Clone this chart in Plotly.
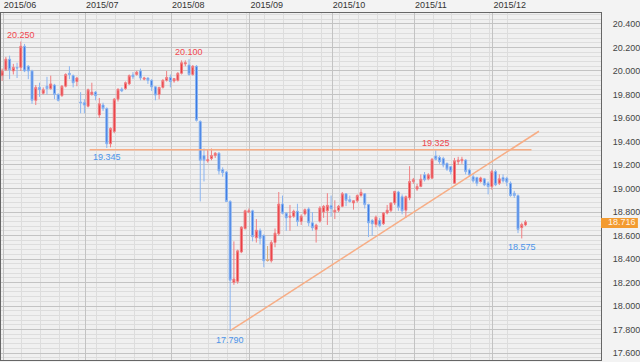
import plotly.graph_objects as go
import pandas as pd

# ---------------- data ----------------
dates = pd.bdate_range("2015-05-29", "2015-12-11")   # trading days shown

opens = [19.96, 20.01, 20.10, 20.00, 20.03, 20.03, 20.21, 20.04, 20.00, 19.75,
         19.86, 19.81, 19.87, 19.85, 19.88, 19.80, 19.79, 19.87, 19.98, 19.96,
         19.91, 19.735, 19.73, 19.70, 19.80, 19.82, 19.625, 19.71, 19.68, 19.38,
         19.485, 19.76, 19.845, 19.85, 19.89, 19.966, 19.97, 20.00, 19.93, 19.94,
         19.92, 19.865, 19.80, 19.86, 19.92, 19.945, 19.915, 19.92, 19.98, 20.06,
         20.05, 19.97, 20.04, 19.57, 19.28, 19.235, 19.255, 19.28, 19.30, 19.16,
         19.14, 18.89, 18.20, 18.21, 18.46, 18.66, 18.80, 18.81, 18.58, 18.643,
         18.60, 18.39, 18.385, 18.54, 18.615, 18.868, 18.79, 18.755, 18.764, 18.806,
         18.72, 18.784, 18.826, 18.708, 18.652, 18.722, 18.80, 18.81, 18.854, 18.80,
         18.815, 18.848, 18.955, 18.905, 18.877, 18.896, 18.94, 18.955, 18.863, 18.728,
         18.694, 18.728, 18.70, 18.792, 18.812, 18.877, 18.97, 18.93, 18.815, 18.92,
         19.06, 18.995, 19.017, 19.116, 19.082, 19.088, 19.276, 19.265, 19.256, 19.214,
         19.186, 19.045, 19.228, 19.236, 19.242, 19.158, 19.10, 19.093, 19.06, 19.082,
         19.045, 19.017, 19.144, 19.045, 19.093, 19.087, 19.045, 18.96, 18.94, 18.667,
         18.69]
highs = [20.02, 20.12, 20.13, 20.06, 20.07, 20.25, 20.23, 20.05, 20.01, 19.88,
         19.90, 19.86, 19.95, 19.96, 19.89, 19.81, 19.88, 19.98, 20.04, 19.97,
         19.95, 19.82, 19.76, 19.85, 19.90, 19.83, 19.77, 19.73, 19.69, 19.52,
         19.77, 19.85, 19.86, 19.91, 19.97, 19.99, 20.00, 20.02, 19.95, 19.945,
         19.93, 19.87, 19.865, 19.93, 20.00, 19.97, 19.94, 19.99, 20.09, 20.09,
         20.10, 20.05, 20.05, 19.58, 19.34, 19.33, 19.34, 19.31, 19.31, 19.18,
         19.15, 18.90, 18.55, 18.48, 18.68, 18.82, 18.83, 18.82, 18.74, 18.66,
         18.61, 18.51, 18.56, 18.66, 18.97, 18.94, 18.80, 18.86, 18.82, 18.87,
         18.78, 18.83, 18.84, 18.80, 18.70, 18.85, 18.86, 18.96, 18.94, 18.90,
         18.86, 18.97, 18.96, 18.94, 18.90, 18.95, 18.995, 18.96, 18.87, 18.74,
         18.77, 18.75, 18.80, 18.86, 18.88, 18.98, 18.98, 18.95, 18.94, 19.19,
         19.09, 19.04, 19.12, 19.14, 19.13, 19.26, 19.325, 19.28, 19.27, 19.22,
         19.19, 19.26, 19.27, 19.27, 19.25, 19.17, 19.12, 19.10, 19.10, 19.09,
         19.06, 19.16, 19.16, 19.12, 19.12, 19.10, 19.06, 18.98, 18.95, 18.71,
         18.73]
lows = [19.915, 20.00, 19.93, 19.97, 19.94, 20.00, 19.99, 19.93, 19.72, 19.71,
        19.78, 19.80, 19.80, 19.84, 19.76, 19.74, 19.78, 19.86, 19.93, 19.86,
        19.87, 19.64, 19.64, 19.69, 19.79, 19.75, 19.60, 19.66, 19.345, 19.35,
        19.47, 19.74, 19.82, 19.84, 19.88, 19.93, 19.96, 19.92, 19.92, 19.89,
        19.83, 19.75, 19.76, 19.85, 19.91, 19.86, 19.90, 19.91, 19.97, 20.04,
        19.96, 19.96, 19.57, 18.89, 19.06, 19.22, 19.24, 19.26, 19.12, 19.10,
        18.89, 17.79, 18.18, 18.19, 18.45, 18.65, 18.79, 18.55, 18.54, 18.525,
        18.33, 18.38, 18.37, 18.50, 18.60, 18.78, 18.64, 18.64, 18.75, 18.68,
        18.69, 18.77, 18.68, 18.64, 18.54, 18.71, 18.75, 18.69, 18.76, 18.74,
        18.80, 18.84, 18.85, 18.88, 18.82, 18.88, 18.93, 18.83, 18.587, 18.60,
        18.67, 18.67, 18.69, 18.78, 18.80, 18.86, 18.81, 18.78, 18.75, 18.90,
        19.04, 18.98, 19.01, 19.06, 19.07, 19.08, 19.24, 19.21, 19.18, 19.15,
        19.12, 19.04, 19.20, 19.21, 19.12, 19.10, 19.05, 19.02, 19.05, 19.02,
        18.95, 18.99, 19.02, 19.03, 19.05, 19.02, 18.93, 18.92, 18.62, 18.575,
        18.68]
closes = [20.00, 20.10, 20.01, 20.03, 20.025, 20.21, 20.00, 20.00, 19.75, 19.86,
          19.84, 19.84, 19.85, 19.89, 19.80, 19.75, 19.87, 19.97, 19.97, 19.90,
          19.94, 19.73, 19.71, 19.84, 19.82, 19.79, 19.72, 19.68, 19.38, 19.51,
          19.76, 19.845, 19.83, 19.90, 19.96, 19.95, 19.99, 19.94, 19.94, 19.92,
          19.865, 19.795, 19.86, 19.92, 19.945, 19.91, 19.935, 19.98, 20.07, 20.07,
          19.97, 20.04, 19.58, 19.24, 19.24, 19.245, 19.28, 19.30, 19.15, 19.135,
          18.89, 18.22, 18.23, 18.47, 18.67, 18.81, 18.81, 18.59, 18.645, 18.576,
          18.385, 18.39, 18.54, 18.62, 18.868, 18.79, 18.75, 18.765, 18.806, 18.72,
          18.764, 18.82, 18.708, 18.666, 18.688, 18.834, 18.848, 18.857, 18.829, 18.815,
          18.848, 18.955, 18.899, 18.89, 18.896, 18.94, 18.967, 18.863, 18.708, 18.70,
          18.756, 18.686, 18.792, 18.815, 18.877, 18.975, 18.84, 18.81, 18.93, 19.06,
          19.075, 19.017, 19.079, 19.074, 19.116, 19.248, 19.248, 19.228, 19.20, 19.164,
          19.144, 19.236, 19.242, 19.248, 19.144, 19.116, 19.065, 19.045, 19.09, 19.031,
          19.017, 19.144, 19.031, 19.082, 19.065, 19.054, 18.94, 18.94, 18.652, 18.694,
          18.716]

y_ticks = [17.6, 17.8, 18.0, 18.2, 18.4, 18.6, 18.8, 19.0, 19.2, 19.4, 19.6, 19.8, 20.0, 20.2, 20.4]
month_labels = ["2015/06", "2015/07", "2015/08", "2015/09", "2015/10", "2015/11", "2015/12"]

# marked extremes: (trading-day index, value, colour key)
marks_high = [(5, 20.250), (50, 20.100), (116, 19.325)]
marks_low = [(28, 19.345), (61, 17.790), (139, 18.575)]
doji_index = 71

# drawn lines (trading-day index, price)
support_x = [23.4, 141.6]
support_y = [19.33, 19.33]
trend_x = [61.0, 143.6]
trend_y = [17.79, 19.487]
last_price = 18.716

# ---------------- figure ----------------
n = len(dates)
x = list(range(n))

RED = "#e8343a"
RED_W = "#f07f82"
BLUE = "#3a78e2"
BLUE_W = "#8ab4f0"
LINE = "#f7ad85"

fig = go.Figure()
fig.add_trace(go.Candlestick(
    x=x, open=opens, high=highs, low=lows, close=closes,
    increasing=dict(line=dict(color=RED_W, width=1), fillcolor=RED),
    decreasing=dict(line=dict(color=BLUE_W, width=1), fillcolor=BLUE),
    whiskerwidth=0, hoverinfo="skip", showlegend=False))
fig.add_trace(go.Candlestick(
    x=[x[doji_index]], open=[opens[doji_index]], high=[highs[doji_index]],
    low=[lows[doji_index]], close=[closes[doji_index]],
    increasing=dict(line=dict(color="#d8b27a", width=1), fillcolor="#d8b27a"),
    decreasing=dict(line=dict(color="#d8b27a", width=1), fillcolor="#d8b27a"),
    whiskerwidth=0, hoverinfo="skip", showlegend=False))

fig.add_trace(go.Scatter(x=support_x, y=support_y, mode="lines",
                         line=dict(color=LINE, width=1.5), hoverinfo="skip", showlegend=False))
fig.add_trace(go.Scatter(x=trend_x, y=trend_y, mode="lines",
                         line=dict(color=LINE, width=1.5), hoverinfo="skip", showlegend=False))

ann = []
for i, v in marks_high:
    ann.append(dict(x=i, y=v, xref="x", yref="y", text=f"{v:.3f}", showarrow=False,
                    yanchor="bottom", yshift=0, font=dict(size=9, color="#f0484f",
                    family="Liberation Sans, Arial")))
for i, v in marks_low:
    ann.append(dict(x=i, y=v, xref="x", yref="y", text=f"{v:.3f}", showarrow=False,
                    yanchor="top", yshift=-2, font=dict(size=9, color="#4b94ea",
                    family="Liberation Sans, Arial")))
ann.append(dict(x=1.0, y=last_price, xref="paper", yref="y", text=f"{last_price:.3f}",
                showarrow=False, xanchor="left", xshift=5,
                font=dict(size=9, color="#fff3e4", family="Liberation Sans, Arial")))

# month start ticks
month_pos = []
for lab in month_labels:
    y_, m_ = lab.split("/")
    idx = next(k for k, d in enumerate(dates) if d.year == int(y_) and d.month == int(m_))
    month_pos.append(idx - 0.7)

week_pos = [k - 0.7 for k, d in enumerate(dates) if d.weekday() == 0]

fig.update_layout(
    width=640, height=362,
    margin=dict(l=0, r=37, t=10, b=2),
    paper_bgcolor="#f3f3f3",
    plot_bgcolor="#f0f0f0",
    boxgap=0.25,
    font=dict(family="Liberation Sans, Arial", size=9, color="#333"),
    annotations=ann,
    shapes=[dict(type="rect", xref="paper", yref="y", x0=1.0, x1=1.0615,
                 y0=18.664, y1=18.748, fillcolor="#f39b30", line=dict(width=0),
                 layer="above")],
    xaxis=dict(range=[-0.3, 160.2], side="top", tickmode="array",
               tickvals=month_pos, ticktext=month_labels, ticks="",
               ticklabelposition="outside right",
               tickfont=dict(size=9, color="#333"),
               showgrid=True, gridcolor="#c3c3c3", gridwidth=1,
               minor=dict(tickmode="array", tickvals=week_pos, showgrid=True,
                          gridcolor="#dddddd", gridwidth=1),
               showline=True, linecolor="#666", linewidth=1, mirror=True,
               rangeslider=dict(visible=False), zeroline=False, fixedrange=True),
    yaxis=dict(range=[17.541, 20.493], side="right", tickmode="array",
               tickvals=y_ticks, tickformat=".3f", ticks="",
               ticklabelstandoff=9,
               tickfont=dict(size=9, color="#444"),
               showgrid=True, gridcolor="#c3c3c3", gridwidth=1,
               minor=dict(dtick=0.04, showgrid=True, gridcolor="#dddddd", gridwidth=1),
               showline=True, linecolor="#666", linewidth=1, mirror=True,
               zeroline=False, fixedrange=True),
)

fig.write_html("out.html")
